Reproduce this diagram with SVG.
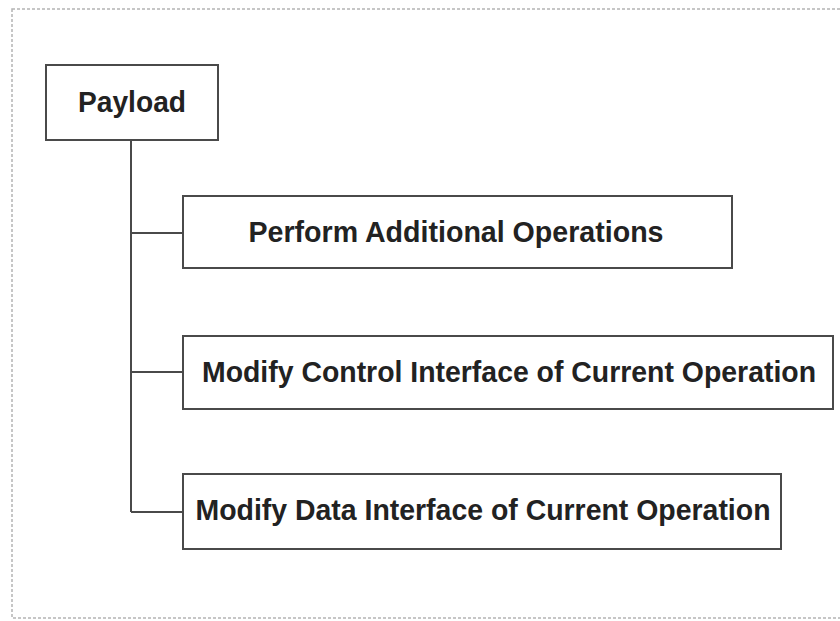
<svg xmlns="http://www.w3.org/2000/svg" width="840" height="621" viewBox="0 0 840 621">
<style>
.bg{fill:#ffffff}
.frame{fill:none;stroke:#b4b4b4;stroke-width:1.5;stroke-dasharray:3 2}
.box{fill:#ffffff;stroke:#4a4a4a;stroke-width:2}
.lbl{font-family:"Liberation Sans",Arial,sans-serif;font-weight:bold;font-size:29px;fill:#222222;text-anchor:middle}
.conn{fill:none;stroke:#4a4a4a;stroke-width:2}
</style>
<rect class="bg" x="0" y="0" width="840" height="621"/>
<rect class="frame" x="12" y="9" width="840" height="609"/>
<g id="connectors">
<path class="conn" d="M131 140 V512"/>
<path class="conn" d="M131 233 H183"/>
<path class="conn" d="M131 372 H183"/>
<path class="conn" d="M131 512 H183"/>
</g>
<g id="payload">
<rect class="box" x="46" y="65" width="172" height="75"/>
<text class="lbl" x="132" y="112" textLength="108" lengthAdjust="spacingAndGlyphs">Payload</text>
</g>
<g id="perform">
<rect class="box" x="183" y="196" width="549" height="72"/>
<text class="lbl" x="456" y="242" textLength="415" lengthAdjust="spacingAndGlyphs">Perform Additional Operations</text>
</g>
<g id="modify-control">
<rect class="box" x="183" y="336" width="650" height="73"/>
<text class="lbl" x="509" y="382" textLength="614" lengthAdjust="spacingAndGlyphs">Modify Control Interface of Current Operation</text>
</g>
<g id="modify-data">
<rect class="box" x="183" y="474" width="598" height="75"/>
<text class="lbl" x="483" y="520" textLength="575" lengthAdjust="spacingAndGlyphs">Modify Data Interface of Current Operation</text>
</g>
</svg>
